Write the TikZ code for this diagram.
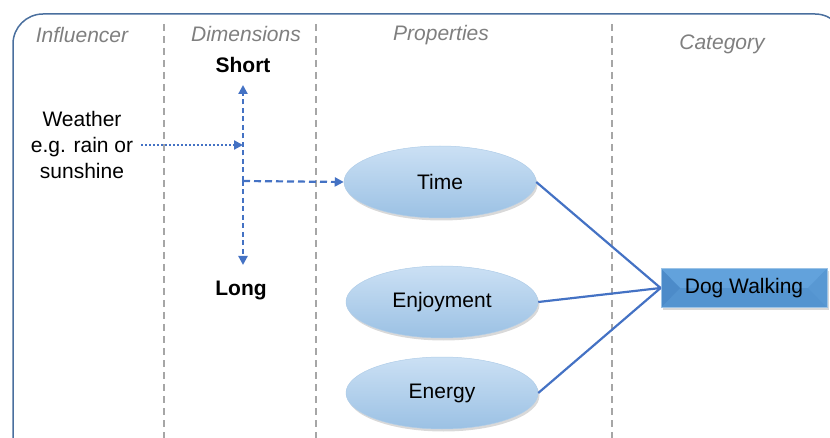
\documentclass[tikz,border=0pt]{standalone}
\usepackage{fontspec}
\setmainfont{Liberation Sans}
\usetikzlibrary{arrows.meta,shadows,shapes.geometric}
\definecolor{frame}{HTML}{4A6F9E}
\definecolor{arr}{HTML}{4472C4}
\definecolor{hdr}{HTML}{7F7F7F}
\definecolor{sep}{HTML}{A6A6A6}
\definecolor{elltop}{HTML}{CBE0F4}
\definecolor{ellbot}{HTML}{9BC1E4}
\definecolor{elldraw}{HTML}{B0CDE8}
\definecolor{bvtop}{HTML}{62A2DC}
\definecolor{bvbot}{HTML}{5494D0}
\definecolor{bvleft}{HTML}{4C8BC9}
\definecolor{bvright}{HTML}{5898D3}
\definecolor{boxdraw}{HTML}{9CC3E6}
\begin{document}
\begin{tikzpicture}[x=1pt,y=-1pt,
  every node/.style={font=\fontsize{21}{26}\selectfont},
  hdrtext/.style={text=hdr,font=\fontsize{21}{26}\selectfont\itshape},
  dimtext/.style={font=\fontsize{21}{26}\selectfont\bfseries},
  sepline/.style={sep,line width=1.3pt,dash pattern=on 7pt off 5pt},
  prop/.style={ellipse,minimum width=192pt,minimum height=72pt,inner sep=0pt,
    top color=elltop,bottom color=ellbot,
    draw=elldraw,line width=0.5pt,
    drop shadow={shadow xshift=1.5pt,shadow yshift=-2.5pt,opacity=0.3}},
  catbox/.style={rectangle,minimum width=166pt,minimum height=39pt,inner sep=0pt,
    fill=bvtop,draw=boxdraw,line width=0.8pt,
    drop shadow={shadow xshift=1.5pt,shadow yshift=-2.5pt,opacity=0.3},
    path picture={
      \fill[bvbot] (path picture bounding box.west) -- (path picture bounding box.east)
        -- (path picture bounding box.south east) -- (path picture bounding box.south west) -- cycle;
      \fill[bvleft] (path picture bounding box.north west) -- ([xshift=19pt]path picture bounding box.west)
        -- (path picture bounding box.south west) -- cycle;
      \fill[bvright] (path picture bounding box.north east) -- ([xshift=-19pt]path picture bounding box.east)
        -- (path picture bounding box.south east) -- cycle;
    }},
  link/.style={arr,line width=2.2pt},
  tip/.style={-{Triangle[width=9pt,length=9pt]}},
]
\useasboundingbox (0,0) rectangle (830,438);
% frame
\draw[frame,line width=1.5pt,rounded corners=30pt] (13,445) -- (13,14) -- (845,14) -- (845,445);
% separators
\draw[sepline] (164,24) -- (164,438);
\draw[sepline] (316,24) -- (316,438);
\draw[sepline] (612,24) -- (612,438);
% headers
\node[hdrtext] (h1) at (82,35) {Influencer};
\node[hdrtext] (h2) at (246,34) {Dimensions};
\node[hdrtext] (h3) at (441,35) {Properties};
\node[hdrtext] (h4) at (722,44) {Category};
% influencer
\node[align=center] (weather) at (82,145) {Weather\\e.g. rain or\\sunshine};
% dimensions
\node[dimtext] (short) at (243,65) {Short};
\node[dimtext] (long) at (241,291) {Long};
\coordinate (up) at (243,85);
\coordinate (down) at (243,265);
\coordinate (mid) at (243,181);
\coordinate (wend) at (243,145);
\coordinate (wstart) at (141,145);
% properties
\node[prop] (time) at (440,182) {Time};
\node[prop] (enjoy) at (442,302) {Enjoyment};
\node[prop] (energy) at (442,393) {Energy};
% category
\node[catbox] (dog) at (744,288) {Dog Walking};
% arrows
\draw[arr,line width=2.2pt,dash pattern=on 5pt off 3.5pt,tip] (mid) -- (up);
\draw[arr,line width=2.2pt,dash pattern=on 5pt off 3.5pt,tip] (mid) -- (down);
\draw[arr,line width=2.2pt,dash pattern=on 2pt off 2pt,tip] (wstart) -- (wend);
\draw[arr,line width=2.2pt,dash pattern=on 7pt off 4pt,tip] (mid) -- (time.west);
% links
\draw[link] (time.east) -- (dog.west);
\draw[link] (enjoy.east) -- (dog.west);
\draw[link] (energy.east) -- (dog.west);
\end{tikzpicture}
\end{document}
